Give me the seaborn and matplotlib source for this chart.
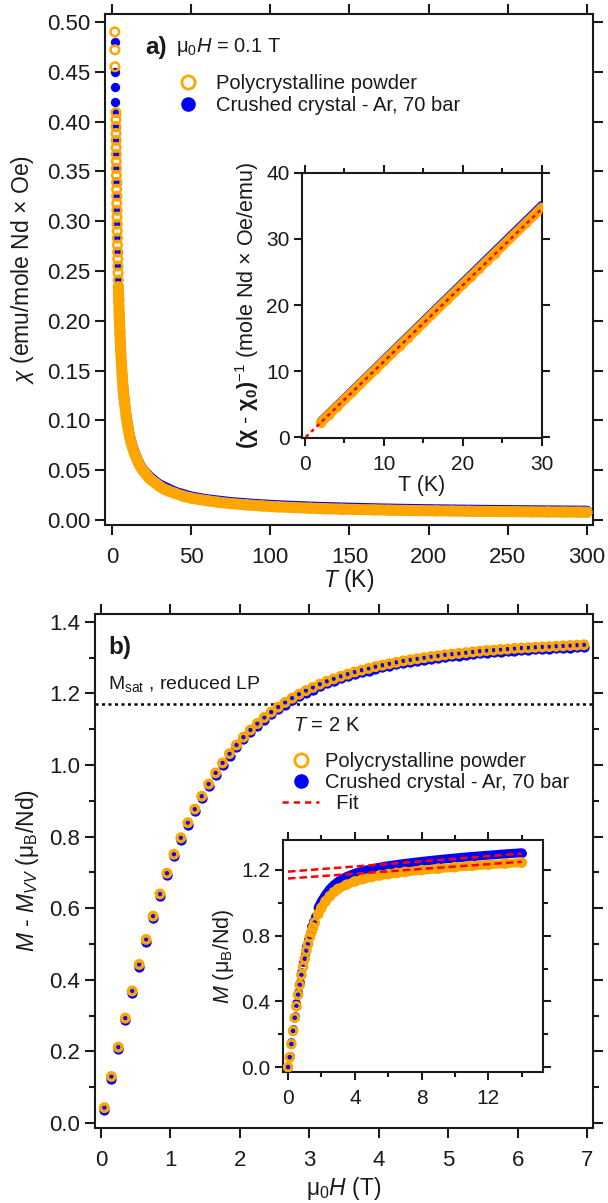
import numpy as np
import matplotlib
matplotlib.use("Agg")
import matplotlib.pyplot as plt
import seaborn as sns
from matplotlib.lines import Line2D
from matplotlib.ticker import MultipleLocator, FormatStrFormatter

# ---------------- data: panel a, chi(T) at 0.1 T ----------------
T_powder = [1.80, 1.85, 1.90, 2.43, 2.47, 2.51, 2.55, 2.59, 2.63, 2.68, 2.72, 2.77,
            2.82, 2.87, 2.93, 2.99, 3.05, 3.11, 3.18, 3.25, 3.32, 3.39, 3.47, 3.56,
            3.65, 3.74, 3.84, 3.94, 4.06, 4.3, 4.6, 5.0, 5.5, 6.0, 6.5, 7.0, 7.5, 8.0,
            9, 10, 11, 12, 13, 14, 15, 16, 17.5, 19, 21, 23, 25, 27.5, 30,
            33, 36, 40, 45, 50, 55, 60, 67, 75, 85, 95,
            105, 115, 125, 135, 145, 155, 165, 175, 185, 195,
            205, 215, 225, 235, 245, 255, 265, 275, 285, 295, 300]
chi_powder = [0.490, 0.472, 0.455, 0.409, 0.402, 0.395, 0.388, 0.381, 0.374, 0.367,
              0.360, 0.353, 0.346, 0.339, 0.332, 0.325, 0.318, 0.311, 0.304, 0.297,
              0.290, 0.283, 0.276, 0.269, 0.262, 0.255, 0.248, 0.241, 0.234,
              0.220, 0.205, 0.188, 0.170, 0.156, 0.144, 0.133, 0.124, 0.117,
              0.104, 0.094, 0.085, 0.078, 0.073, 0.068, 0.064, 0.060,
              0.055, 0.051, 0.047, 0.043, 0.040, 0.037, 0.034,
              0.031, 0.029, 0.0267, 0.024, 0.022, 0.0207, 0.0194, 0.0179, 0.0165, 0.0152, 0.0141,
              0.0132, 0.0125, 0.0119, 0.0114, 0.0109, 0.0105, 0.0102, 0.0099, 0.0096, 0.0094,
              0.0092, 0.0090, 0.0088, 0.0086, 0.0085, 0.0084, 0.0082, 0.0081, 0.0080, 0.0079, 0.0078]

T_crystal = [1.80, 1.85, 1.90, 1.95, 2.43, 2.51, 2.59, 2.68, 2.77, 2.87, 2.99, 3.11,
             3.25, 3.39, 3.56, 3.74, 3.94, 4.3, 5, 6, 7, 8, 10, 12, 14, 17, 20, 25,
             30, 40, 50, 60, 75, 90, 110, 130, 150, 175, 200, 225, 250, 275, 300]
chi_crystal = [0.480, 0.450, 0.435, 0.420, 0.409, 0.395, 0.381, 0.367, 0.353, 0.339,
               0.325, 0.311, 0.297, 0.283, 0.269, 0.255, 0.241, 0.222, 0.190, 0.158,
               0.135, 0.119, 0.096, 0.080, 0.070, 0.058, 0.050, 0.042, 0.036, 0.0285,
               0.0238, 0.0210, 0.0182, 0.0163, 0.0146, 0.0134, 0.0125, 0.0116, 0.0110,
               0.0105, 0.0101, 0.0098, 0.0095]

# inset a: (chi - chi0)^-1
T_inv = [2, 3, 4, 5, 6, 7, 8, 9, 10, 11, 12, 13, 14, 15, 16, 17, 18, 19, 20,
         21, 22, 23, 24, 25, 26, 27, 28, 29, 30]
inv_powder = [2.20, 3.36, 4.53, 5.69, 6.85, 8.02, 9.18, 10.34, 11.51, 12.67, 13.83,
              15.00, 16.16, 17.33, 18.49, 19.65, 20.82, 21.98, 23.14, 24.31, 25.47,
              26.63, 27.80, 28.96, 30.12, 31.29, 32.45, 33.61, 34.78]
inv_crystal = [2.40, 3.57, 4.74, 5.91, 7.08, 8.25, 9.42, 10.59, 11.76, 12.93, 14.10,
               15.27, 16.44, 17.61, 18.78, 19.95, 21.12, 22.29, 23.46, 24.63, 25.80,
               26.97, 28.14, 29.31, 30.48, 31.65, 32.82, 33.99, 35.16]
T_fit = [0.1, 30.0]
inv_fit = [0.0, 34.6]

# ---------------- data: panel b, M(H) at 2 K ----------------
H_main = [0.05, 0.15, 0.25, 0.35, 0.45, 0.55, 0.65, 0.75, 0.85, 0.95,
          1.05, 1.15, 1.25, 1.35, 1.45, 1.55, 1.65, 1.75, 1.85, 1.95,
          2.05, 2.15, 2.25, 2.35, 2.45, 2.55, 2.65, 2.75, 2.85, 2.95,
          3.05, 3.15, 3.25, 3.35, 3.45, 3.55, 3.65, 3.75, 3.85, 3.95,
          4.05, 4.15, 4.25, 4.35, 4.45, 4.55, 4.65, 4.75, 4.85, 4.95,
          5.05, 5.15, 5.25, 5.35, 5.45, 5.55, 5.65, 5.75, 5.85, 5.95,
          6.05, 6.15, 6.25, 6.35, 6.45, 6.55, 6.65, 6.75, 6.85, 6.95]
M_powder = [0.043, 0.130, 0.212, 0.293, 0.369, 0.443, 0.513, 0.578, 0.640, 0.698,
            0.751, 0.797, 0.839, 0.877, 0.913, 0.947, 0.978, 1.006, 1.032, 1.056,
            1.078, 1.098, 1.116, 1.133, 1.148, 1.162, 1.175, 1.187, 1.198, 1.208,
            1.217, 1.226, 1.234, 1.241, 1.248, 1.254, 1.260, 1.265, 1.270, 1.275,
            1.279, 1.283, 1.287, 1.291, 1.294, 1.297, 1.300, 1.303, 1.305, 1.308,
            1.310, 1.312, 1.314, 1.316, 1.318, 1.320, 1.321, 1.323, 1.324, 1.326,
            1.327, 1.328, 1.329, 1.330, 1.331, 1.332, 1.333, 1.334, 1.335, 1.336]
M_crystal = [0.037, 0.124, 0.206, 0.287, 0.363, 0.437, 0.507, 0.572, 0.634, 0.692,
             0.745, 0.791, 0.833, 0.871, 0.907, 0.941, 0.972, 1.000, 1.026, 1.050,
             1.072, 1.092, 1.110, 1.127, 1.142, 1.156, 1.169, 1.181, 1.192, 1.202,
             1.211, 1.220, 1.228, 1.235, 1.242, 1.248, 1.254, 1.259, 1.264, 1.269,
             1.273, 1.277, 1.281, 1.285, 1.288, 1.291, 1.294, 1.297, 1.299, 1.302,
             1.304, 1.306, 1.308, 1.310, 1.312, 1.314, 1.315, 1.317, 1.318, 1.320,
             1.321, 1.322, 1.323, 1.324, 1.325, 1.326, 1.327, 1.328, 1.329, 1.330]
M_sat_reduced = 1.17

# inset b: raw M(H) up to 14 T
H_inset = [0, 0.1, 0.2, 0.3, 0.4, 0.5, 0.6, 0.7, 0.8, 0.9, 1.0, 1.1, 1.2, 1.3, 1.4,
           1.5, 1.6, 1.8, 2.0, 2.25, 2.5, 2.75, 3.0, 3.5, 4.0, 4.5, 5.0, 5.5, 6.0,
           6.5, 7.0, 8, 9, 10, 11, 12, 13, 14]
Mi_powder = [0.0, 0.06, 0.14, 0.22, 0.30, 0.37, 0.44, 0.50, 0.56, 0.61, 0.66, 0.71,
             0.75, 0.79, 0.82, 0.85, 0.88, 0.93, 0.97, 1.01, 1.04, 1.065, 1.085, 1.11,
             1.13, 1.145, 1.157, 1.167, 1.175, 1.182, 1.188, 1.199, 1.208, 1.217,
             1.225, 1.232, 1.239, 1.245]
Mi_crystal = [0.0, 0.07, 0.15, 0.23, 0.31, 0.39, 0.46, 0.52, 0.58, 0.64, 0.69, 0.74,
              0.78, 0.82, 0.86, 0.89, 0.92, 0.97, 1.01, 1.05, 1.085, 1.11, 1.13, 1.16,
              1.18, 1.195, 1.207, 1.217, 1.226, 1.233, 1.24, 1.252, 1.263, 1.273,
              1.282, 1.29, 1.298, 1.305]
H_fit = [0.0, 14.0]
fit_crystal = [1.19, 1.30]
fit_powder = [1.148, 1.25]

ORANGE = "#FFA500"
BLUE = "#0000FF"
RED = "#FF0000"
INK = "#1a1a1a"

# ---------------- style ----------------
sns.set_theme(style="ticks")
plt.rcParams["font.family"] = ["Liberation Sans", "DejaVu Sans"]
plt.rcParams["mathtext.fontset"] = "custom"
plt.rcParams["mathtext.rm"] = "Liberation Sans"
plt.rcParams["mathtext.it"] = "Liberation Sans:italic"
plt.rcParams["mathtext.bf"] = "Liberation Sans:bold"
plt.rcParams["axes.linewidth"] = 1.5
plt.rcParams["axes.edgecolor"] = INK
plt.rcParams["text.color"] = INK
plt.rcParams["axes.labelcolor"] = INK

fig = plt.figure(figsize=(6.08, 12.03), dpi=100)
ax_a = fig.add_axes([0.1727, 0.5636, 0.8026, 0.4248])
ax_ai = fig.add_axes([0.4967, 0.6359, 0.3947, 0.2203])
ax_b = fig.add_axes([0.1562, 0.0623, 0.8191, 0.4273])
ax_bi = fig.add_axes([0.4655, 0.1089, 0.4276, 0.1929])


def frame(ax, size, xpad, major=7.5, minor=4):
    ax.tick_params(which="both", direction="out", top=True, right=True,
                   labeltop=False, labelright=False, width=1.5, color=INK,
                   labelcolor=INK)
    ax.tick_params(which="major", length=major, labelsize=size, pad=3)
    ax.tick_params(which="minor", length=minor)
    ax.tick_params(axis="x", which="major", pad=xpad)


def open_rings(ax, x, y, s, lw):
    sns.scatterplot(x=x, y=y, ax=ax, marker="o", s=s, facecolor="none",
                    edgecolor=ORANGE, linewidth=lw, zorder=4)


def dots(ax, x, y, s):
    sns.scatterplot(x=x, y=y, ax=ax, marker="o", s=s, color=BLUE,
                    linewidth=0, zorder=3)


def band(ax, x, y, color, lw, z):
    sns.lineplot(x=x, y=y, ax=ax, color=color, lw=lw, sort=False,
                 estimator=None, solid_capstyle="round", zorder=z)


# ---------------- panel a ----------------
Tp = np.array(T_powder); cp = np.array(chi_powder)
Tc = np.array(T_crystal); cc = np.array(chi_crystal)
band(ax_a, Tc[Tc >= 4], cc[Tc >= 4], BLUE, 7, 2)
dots(ax_a, Tc, cc, 45)
band(ax_a, Tp[Tp >= 4], cp[Tp >= 4], ORANGE, 8, 3.5)
open_rings(ax_a, Tp, cp, 38, 1.8)

ax_a.set_xlim(-4.4, 303.8)
ax_a.set_ylim(-0.005, 0.508)
ax_a.xaxis.set_major_locator(MultipleLocator(50))
ax_a.yaxis.set_major_locator(MultipleLocator(0.05))
ax_a.yaxis.set_major_formatter(FormatStrFormatter("%.2f"))
frame(ax_a, 16, xpad=8.5)
ax_a.set_xlabel(r"$T$ (K)", fontsize=16.5, labelpad=-1)
ax_a.set_ylabel(r"$\chi$ (emu/mole Nd × Oe)", fontsize=16.5, labelpad=8)

ax_a.text(0.082, 0.935, "a)", transform=ax_a.transAxes, fontsize=17.5,
          fontweight="bold", va="center", ha="left")
ax_a.text(0.1455, 0.935, r"μ$_0$$H$ = 0.1 T", transform=ax_a.transAxes,
          fontsize=14.5, va="center", ha="left")

leg_handles = [
    Line2D([], [], ls="", marker="o", ms=9.5, mfc="none", mec=ORANGE, mew=2),
    Line2D([], [], ls="", marker="o", ms=10.5, mfc=BLUE, mec=BLUE, mew=0),
]
ax_a.legend(leg_handles, ["Polycrystalline powder", "Crushed crystal - Ar, 70 bar"],
            loc="center left", bbox_to_anchor=(0.150, 0.843), frameon=False,
            fontsize=14.5, handlelength=1.0, handletextpad=0.9, labelspacing=0.15,
            borderpad=0, borderaxespad=0)

# inset a
band(ax_ai, T_inv, inv_crystal, BLUE, 6, 2)
band(ax_ai, T_inv, inv_powder, ORANGE, 7, 3)
sns.scatterplot(x=T_inv, y=inv_powder, ax=ax_ai, marker="o", s=45, color=ORANGE,
                linewidth=0, zorder=3.5)
sns.lineplot(x=T_fit, y=inv_fit, ax=ax_ai, color=RED, lw=1.8, dashes=(1.5, 1.5),
             zorder=5)
ax_ai.set_xlim(-0.38, 30)
ax_ai.set_ylim(-0.15, 40)
ax_ai.xaxis.set_major_locator(MultipleLocator(10))
ax_ai.xaxis.set_minor_locator(MultipleLocator(5))
ax_ai.yaxis.set_major_locator(MultipleLocator(10))
frame(ax_ai, 15, xpad=6, major=6, minor=3.5)
ax_ai.set_xlabel("T (K)", fontsize=15.5, labelpad=1)
ax_ai.set_ylabel(r"$\mathbf{(\chi}$ - $\mathbf{\chi_0)}^{-1}$ (mole Nd × Oe/emu)",
                 fontsize=15.5, labelpad=4)

# ---------------- panel b ----------------
dots(ax_b, H_main, M_crystal, 55)
open_rings(ax_b, H_main, M_powder, 30, 2.4)
ax_b.axhline(M_sat_reduced, color="black", lw=1.8, ls=(0, (1.2, 1.4)), zorder=1)

ax_b.set_xlim(-0.086, 7.08)
ax_b.set_ylim(-0.014, 1.422)
ax_b.xaxis.set_major_locator(MultipleLocator(1))
ax_b.yaxis.set_major_locator(MultipleLocator(0.2))
ax_b.yaxis.set_minor_locator(MultipleLocator(0.1))
ax_b.yaxis.set_major_formatter(FormatStrFormatter("%.1f"))
frame(ax_b, 16, xpad=8.5)
ax_b.set_xlabel(r"μ$_0$$H$ (T)", fontsize=16.5, labelpad=3)
ax_b.set_ylabel(r"$M$ - $M_{VV}$ (μ$_{\rm B}$/Nd)", fontsize=16.5, labelpad=6)

ax_b.text(0.026, 0.934, "b)", transform=ax_b.transAxes, fontsize=17.5,
          fontweight="bold", va="center", ha="left")
ax_b.text(0.026, 0.864, r"M$_{\rm sat}$ , reduced LP", transform=ax_b.transAxes,
          fontsize=14, va="center", ha="left")
ax_b.text(0.398, 0.784, r"$T$ = 2 K", transform=ax_b.transAxes,
          fontsize=14.5, va="center", ha="left")

leg_b = [
    Line2D([], [], ls="", marker="o", ms=9.5, mfc="none", mec=ORANGE, mew=2),
    Line2D([], [], ls="", marker="o", ms=10.5, mfc=BLUE, mec=BLUE, mew=0),
    Line2D([], [], color=RED, lw=1.8, ls=(0, (2.5, 2))),
]
ax_b.legend(leg_b, ["Polycrystalline powder", "Crushed crystal - Ar, 70 bar", "  Fit"],
            loc="center left", bbox_to_anchor=(0.3755, 0.673), frameon=False,
            fontsize=14.5, handlelength=1.85, handletextpad=0.3, labelspacing=0.1,
            borderpad=0, borderaxespad=0)

# inset b
Hi = np.array(H_inset)
mi_p = np.array(Mi_powder); mi_c = np.array(Mi_crystal)
band(ax_bi, Hi[Hi >= 1.8], mi_c[Hi >= 1.8], BLUE, 6.5, 2)
dots(ax_bi, Hi, mi_c, 40)
band(ax_bi, Hi[Hi >= 1.8], mi_p[Hi >= 1.8], ORANGE, 6.5, 3)
open_rings(ax_bi, Hi, mi_p, 30, 2.2)
sns.lineplot(x=H_fit, y=fit_crystal, ax=ax_bi, color=RED, lw=1.8, dashes=(3, 1.6), zorder=6)
sns.lineplot(x=H_fit, y=fit_powder, ax=ax_bi, color=RED, lw=1.8, dashes=(3, 1.6), zorder=6)
ax_bi.set_xlim(-0.3, 15.27)
ax_bi.set_ylim(-0.03, 1.383)
ax_bi.xaxis.set_major_locator(MultipleLocator(4))
ax_bi.xaxis.set_minor_locator(MultipleLocator(2))
ax_bi.yaxis.set_major_locator(MultipleLocator(0.4))
ax_bi.yaxis.set_minor_locator(MultipleLocator(0.2))
ax_bi.yaxis.set_major_formatter(FormatStrFormatter("%.1f"))
frame(ax_bi, 15, xpad=6.5, major=6, minor=3.5)
ax_bi.set_xlabel("")
ax_bi.set_ylabel(r"$M$ (μ$_{\rm B}$/Nd)", fontsize=15.5, labelpad=4)

fig.savefig("out.png", dpi=100)
